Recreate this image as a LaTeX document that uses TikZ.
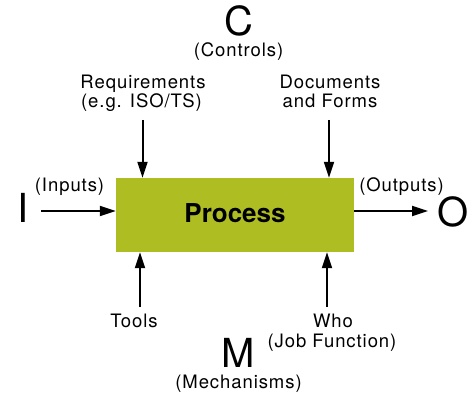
\documentclass[tikz,border=0pt]{standalone}
\usepackage{fontspec}
\setmainfont{TeX Gyre Heros}
\newfontfamily\labfont[LetterSpace=5]{TeX Gyre Heros}
\usetikzlibrary{arrows.meta}
\definecolor{procgreen}{RGB}{174,190,34}
\begin{document}
\begin{tikzpicture}[x=1pt,y=-1pt,
  lab/.style={inner sep=0pt,anchor=base,font=\labfont\fontsize{18.5}{20}\selectfont},
  big/.style={inner sep=0pt,anchor=base,font=\fontsize{40}{44}\selectfont},
  arr/.style={line width=2pt,-{Triangle[length=16pt,width=10pt]}},
  procbox/.style={fill=procgreen,draw=none,minimum width=238pt,minimum height=74pt,inner sep=0pt}]
\useasboundingbox (0,0) rectangle (476,395);

% central activity box
\node[procbox] (proc) at (235,215) {};
\node[inner sep=0pt,anchor=base,font=\fontsize{26}{28}\selectfont\bfseries] (ptxt) at (235,223) {Process};

% controls
\node[big] (C) at (239,36) {C};
\node[lab] (ctl) at (238.5,57) {(Controls)};
\node[lab] (req1) at (143,89) {Requirements};
\node[lab] (req2) at (141.5,108) {(e.g. ISO/TS)};
\node[lab] (doc1) at (330,89) {Documents};
\node[lab] (doc2) at (330,108) {and Forms};
\coordinate (reqtop) at (142.5,120);
\coordinate (doctop) at (329,120);
\draw[arr] (reqtop) -- (reqtop |- proc.north);
\draw[arr] (doctop) -- (doctop |- proc.north);

% inputs and outputs
\node[big] (I) at (23,222.5) {I};
\node[lab] (inl) at (69.5,191.5) {(Inputs)};
\node[big] (O) at (453,226.5) {O};
\node[lab] (outl) at (401.5,191.5) {(Outputs)};
\coordinate (instart) at (41,211);
\coordinate (outend) at (428,211);
\draw[arr] (instart) -- (instart -| proc.west);
\draw[arr] (outend -| proc.east) -- (outend);

% mechanisms
\node[lab] (tools) at (134,327.5) {Tools};
\node[lab] (who) at (333,327.5) {Who};
\node[lab] (job) at (332,347.5) {(Job Function)};
\node[big] (M) at (238,367) {M};
\node[lab] (mech) at (238.5,388) {(Mechanisms)};
\coordinate (toolsbot) at (140,307);
\coordinate (whobot) at (327,307);
\draw[arr] (toolsbot) -- (toolsbot |- proc.south);
\draw[arr] (whobot) -- (whobot |- proc.south);
\end{tikzpicture}
\end{document}
